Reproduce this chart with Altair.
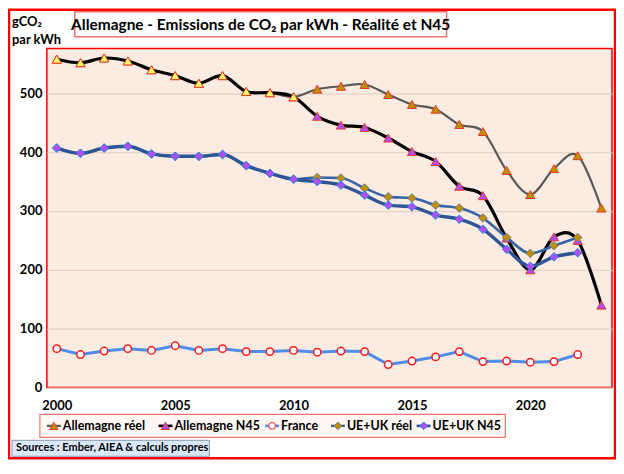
import altair as alt
import pandas as pd

# ---------------- data ----------------
years = list(range(2000, 2024))
de_reel = [558, 552, 560, 555, 540, 530, 517, 530, 503, 501, 494, 507, 512, 515, 498, 481,
           473, 447, 435, 369, 328, 372, 394, 305]
de_n45 = [558, 552, 560, 555, 540, 530, 517, 530, 503, 501, 494, 461, 446, 442, 424, 401,
          384, 342, 326, 254, 200, 256, 250, 140]
eu_years = list(range(2000, 2023))
eu_reel = [407, 398, 407, 410, 397, 393, 393, 396, 377, 364, 354, 357, 356, 339, 324, 322,
           310, 305, 288, 255, 228, 241, 255]
eu_n45 = [407, 398, 407, 410, 397, 393, 393, 396, 377, 364, 354, 350, 344, 327, 310, 307,
          293, 286, 269, 235, 206, 222, 229]
france = [66, 56, 62, 66, 63, 71, 63, 66, 61, 61, 63, 60, 62, 61, 39, 45, 52, 61, 44, 45,
          43, 44, 56]
hist_end = 2010
x_ticks = [2000, 2005, 2010, 2015, 2020]
y_ticks = [0, 100, 200, 300, 400, 500]
legend_labels = ["Allemagne réel", "Allemagne N45", "France", "UE+UK réel", "UE+UK N45"]
title_text = "Allemagne - Emissions de CO₂ par kWh - Réalité et N45"
unit_lines = ["gCO₂", "par kWh"]
source_text = "Sources : Ember, AIEA & calculs propres"

df_de = pd.DataFrame({"year": years, "reel": de_reel, "n45": de_n45})
df_eu = pd.DataFrame({"year": eu_years, "reel": eu_reel, "n45": eu_n45, "fr": france})
one = pd.DataFrame({"k": [0]})

FONT = "Lato"
W, H = 567, 340

x_enc = alt.X("year:Q",
              scale=alt.Scale(domain=[1999.58, 2023.45], nice=False, zero=False),
              axis=alt.Axis(values=x_ticks, format="d", title=None, grid=False, domain=False,
                            ticks=False, labelPadding=12, labelFont=FONT, labelFontWeight="bold",
                            labelFontSize=13, labelColor="black"))


def y_enc(field):
    return alt.Y(f"{field}:Q",
                 scale=alt.Scale(domain=[0, 576], nice=False),
                 axis=alt.Axis(values=y_ticks, title=None, grid=True, gridColor="#DCCFC6",
                               gridWidth=1, domain=False, ticks=False, labelPadding=5,
                               labelFont=FONT, labelFontWeight="bold", labelFontSize=13,
                               labelColor="black"))


# colours
C_DE_REEL_LINE = "#595959"
C_DE_N45_LINE = "#000000"
C_BROWN = "#BF8F00"
C_PURPLE = "#B54CF2"
C_YELLOW = "#FFFF66"
C_TRI_EDGE = "#E23B2E"
C_FR_LINE = "#4E8DEB"
C_EU_REEL_LINE = "#3565A8"
C_EU_N45_LINE = "#2F5597"
C_EU_N45_EDGE = "#1E8FE8"
C_EU_REEL_EDGE = "#6F7F95"

layers = []

# Allemagne réel
layers.append(alt.Chart(df_de).mark_line(color=C_DE_REEL_LINE, strokeWidth=2.2,
                                         interpolate="cardinal").encode(x=x_enc, y=y_enc("reel")))
layers.append(alt.Chart(df_de).mark_point(shape="triangle-up", filled=True, fill=C_BROWN,
                                          stroke=C_TRI_EDGE, strokeWidth=1, size=85, opacity=1)
              .encode(x=x_enc, y=y_enc("reel")))
# Allemagne N45
layers.append(alt.Chart(df_de).mark_line(color=C_DE_N45_LINE, strokeWidth=3.2,
                                         interpolate="cardinal").encode(x=x_enc, y=y_enc("n45")))
layers.append(alt.Chart(df_de).mark_point(shape="triangle-up", filled=True,
                                          stroke=C_TRI_EDGE, strokeWidth=1, size=85, opacity=1)
              .encode(x=x_enc, y=y_enc("n45"),
                      fill=alt.condition(f"datum.year <= {hist_end}", alt.value(C_YELLOW),
                                         alt.value(C_PURPLE))))
# France
layers.append(alt.Chart(df_eu).mark_line(color=C_FR_LINE, strokeWidth=3)
              .encode(x=x_enc, y=y_enc("fr")))
layers.append(alt.Chart(df_eu).mark_point(shape="circle", filled=True, fill="white",
                                          stroke="#FF1A1A", strokeWidth=1.5, size=55, opacity=1)
              .encode(x=x_enc, y=y_enc("fr")))
# UE+UK réel
layers.append(alt.Chart(df_eu).mark_line(color=C_EU_REEL_LINE, strokeWidth=2.6,
                                         interpolate="monotone").encode(x=x_enc, y=y_enc("reel")))
layers.append(alt.Chart(df_eu).mark_point(shape="diamond", filled=True, fill=C_BROWN,
                                          stroke=C_EU_REEL_EDGE, strokeWidth=1, size=75, opacity=1)
              .encode(x=x_enc, y=y_enc("reel")))
# UE+UK N45
layers.append(alt.Chart(df_eu).mark_line(color=C_EU_N45_LINE, strokeWidth=3.4,
                                         interpolate="monotone").encode(x=x_enc, y=y_enc("n45")))
layers.append(alt.Chart(df_eu).mark_point(shape="diamond", filled=True, fill=C_PURPLE,
                                          stroke=C_EU_N45_EDGE, strokeWidth=1, size=75, opacity=1)
              .encode(x=x_enc, y=y_enc("n45")))

# ---------------- decorations (pixel positions relative to plot origin) ----------------
def box(x1, x2, y1, y2, **kw):
    return alt.Chart(one).mark_rect(**kw).encode(
        x=alt.value(x1), x2=alt.value(x2), y=alt.value(y1), y2=alt.value(y2))


def label(x, y, txt, size, align="left", **kw):
    return alt.Chart(one).mark_text(text=txt, font=FONT, fontWeight="bold", fontSize=size,
                                    align=align, baseline="middle", color="black", **kw).encode(
        x=alt.value(x), y=alt.value(y))


# outer frame
layers.append(box(-38, 570, -39, 411, fillOpacity=0, stroke="#FF0000", strokeWidth=2.5))
# title box
layers.append(box(28, 401, -37, -12, fill="white", stroke="#F07272", strokeWidth=1.5))
layers.append(label(214.5, -24, title_text, 15.5, align="center"))
# unit
layers.append(label(-35, -27, unit_lines[0], 13))
layers.append(label(-35, -9, unit_lines[1], 13))
# legend box
LY = 378.5
layers.append(box(-7, 460, 367, 390, fill="#FFF8F4", stroke="#F07272", strokeWidth=1.2))
leg_x = [7, 119, 226, 292, 378]
leg_style = [
    (C_DE_REEL_LINE, 2.2, "triangle-up", C_BROWN, C_TRI_EDGE, 70),
    (C_DE_N45_LINE, 2.6, "triangle-up", C_PURPLE, C_TRI_EDGE, 70),
    (C_FR_LINE, 2.6, "circle", "white", "#FF1A1A", 45),
    (C_EU_REEL_LINE, 2.4, "diamond", C_BROWN, C_EU_REEL_EDGE, 60),
    (C_EU_N45_LINE, 2.6, "diamond", C_PURPLE, C_EU_N45_EDGE, 60),
]
for xc, lab, (lc, lw, shp, fc, sc, sz) in zip(leg_x, legend_labels, leg_style):
    layers.append(alt.Chart(one).mark_rule(color=lc, strokeWidth=lw).encode(
        x=alt.value(xc - 7), x2=alt.value(xc + 7), y=alt.value(LY)))
    layers.append(alt.Chart(one).mark_point(shape=shp, filled=True, fill=fc, stroke=sc,
                                            strokeWidth=1, size=sz, opacity=1).encode(
        x=alt.value(xc), y=alt.value(LY)))
    layers.append(label(xc + 9, LY, lab, 12.5))
# sources box
layers.append(box(-35, 163, 393, 409, fill="#DAE8FB", stroke="#8C9BAE", strokeWidth=1))
layers.append(label(-31, 401, source_text, 11))

chart = alt.layer(*layers).properties(
    width=W, height=H,
    autosize=alt.AutoSizeParams(type="none"),
    padding={"left": 39, "top": 40, "right": 4, "bottom": 72},
    background="white",
).configure_view(fill="#FBEBE0", stroke="#FF0000", strokeWidth=1.5)

chart.save("out.html", embed_options={"renderer": "svg", "actions": False})
